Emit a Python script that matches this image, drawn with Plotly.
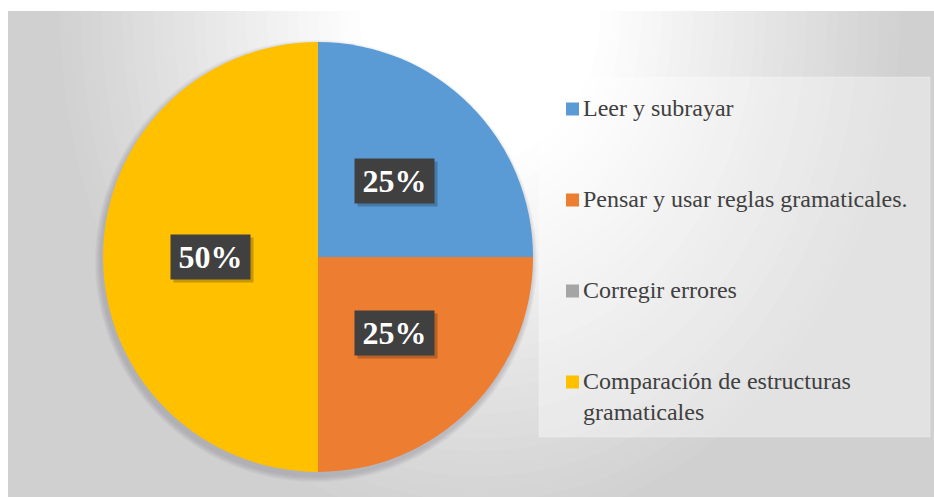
import math
import plotly.graph_objects as go

# ---- data ----
categories = [
    "Leer y subrayar",
    "Pensar y usar reglas gramaticales.",
    "Corregir errores",
    "Comparación de estructuras gramaticales",
]
legend_labels = [
    "Leer y subrayar",
    "Pensar y usar reglas gramaticales.",
    "Corregir errores",
    "Comparación de estructuras<br>gramaticales",
]
values = [25, 25, 0, 50]
colors = ["#5B9BD5", "#ED7D31", "#A5A5A5", "#FFC000"]

# ---- geometry helpers (pixels -> paper) ----
W, H = 934, 497
def px(x):
    return x / W
def py(y):
    return 1 - y / H

CX, CY, R = 318, 257, 215
FONT = "Liberation Serif"
LEG_SIZE = 24

shapes = []

# chart-area background: base + radial gradient
shapes.append(dict(type="rect", xref="paper", yref="paper", layer="below",
                   x0=0, x1=1, y0=0, y1=1, line=dict(width=0),
                   fillcolor="rgb(208,208,208)"))
GX, GY, ASP = 480, 15, 1.22
N = 30
for i in range(N + 1):
    d = 430 - i * (310 / N)
    t = max(0.0, min(1.0, (d - 120) / 310))
    g = int(round(255 - 47 * t))
    shapes.append(dict(type="circle", xref="paper", yref="paper", layer="below",
                       x0=px(GX - d), x1=px(GX + d),
                       y0=py(GY + d * ASP), y1=py(GY - d * ASP),
                       line=dict(width=0), fillcolor=f"rgb({g},{g},{g})"))
# white outer margins (top and left)
shapes.append(dict(type="rect", xref="paper", yref="paper", layer="below",
                   x0=0, x1=1, y0=py(11), y1=1, line=dict(width=0), fillcolor="white"))
shapes.append(dict(type="rect", xref="paper", yref="paper", layer="below",
                   x0=0, x1=px(8), y0=0, y1=1, line=dict(width=0), fillcolor="white"))

# pie soft shadow
for k in range(1, 7):
    r = R + k
    shapes.append(dict(type="circle", xref="paper", yref="paper", layer="below",
                       x0=px(CX - 2 - r), x1=px(CX - 2 + r),
                       y0=py(CY + 4 + r), y1=py(CY + 4 - r),
                       line=dict(width=0), fillcolor="rgba(100,100,120,0.05)"))

# legend box
shapes.append(dict(type="rect", xref="paper", yref="paper", layer="below",
                   x0=px(539), x1=px(930), y0=py(437), y1=py(77),
                   line=dict(width=1, color="rgba(255,255,255,0.25)"),
                   fillcolor="rgba(255,255,255,0.38)"))

annotations = []

# legend entries
LEG_Y0, LEG_DY = 109, 91
for i, (lab, col) in enumerate(zip(legend_labels, colors)):
    yc = LEG_Y0 + i * LEG_DY
    shapes.append(dict(type="rect", xref="paper", yref="paper",
                       x0=px(566), x1=px(579), y0=py(yc + 6.5), y1=py(yc - 6.5),
                       line=dict(width=0), fillcolor=col))
    annotations.append(dict(xref="paper", yref="paper", x=px(581),
                            y=py(yc - 0.66 * LEG_SIZE), xanchor="left", yanchor="top",
                            text=lab, showarrow=False, align="left",
                            font=dict(family=FONT, size=LEG_SIZE, color="#404040")))

# data labels (centre of each slice at half radius)
total = sum(values)
cum = 0
for v in values:
    if v > 0:
        frac = (cum + v / 2) / total
        th = 2 * math.pi * frac
        lx = CX + 0.5 * R * math.sin(th)
        ly = CY - 0.5 * R * math.cos(th)
        txt = f"<b>{v / total * 100:.0f}%</b>"
        annotations.append(dict(xref="paper", yref="paper", x=px(lx + 3), y=py(ly + 3),
                                xanchor="center", yanchor="middle", text=" ",
                                showarrow=False, width=79, height=44,
                                bgcolor="rgba(0,0,0,0.22)", borderpad=0,
                                font=dict(family=FONT, size=32, color="white")))
        annotations.append(dict(xref="paper", yref="paper", x=px(lx), y=py(ly),
                                xanchor="center", yanchor="middle", text=txt,
                                showarrow=False, width=79, height=44,
                                bgcolor="#404040", borderpad=0,
                                font=dict(family=FONT, size=32, color="white")))
    cum += v

fig = go.Figure(go.Pie(
    labels=categories, values=values, marker=dict(colors=colors, line=dict(width=0)),
    sort=False, direction="clockwise", rotation=0, textinfo="none",
    hoverinfo="label+percent",
    domain=dict(x=[px(CX - R), px(CX + R)], y=[py(CY + R), py(CY - R)]),
))

fig.update_layout(
    width=W, height=H, margin=dict(l=0, r=0, t=0, b=0),
    paper_bgcolor="white", showlegend=False,
    font=dict(family=FONT),
    shapes=shapes, annotations=annotations,
)

fig.write_html("out.html", config={"displayModeBar": False},
               post_script="document.body.style.margin='0';")
